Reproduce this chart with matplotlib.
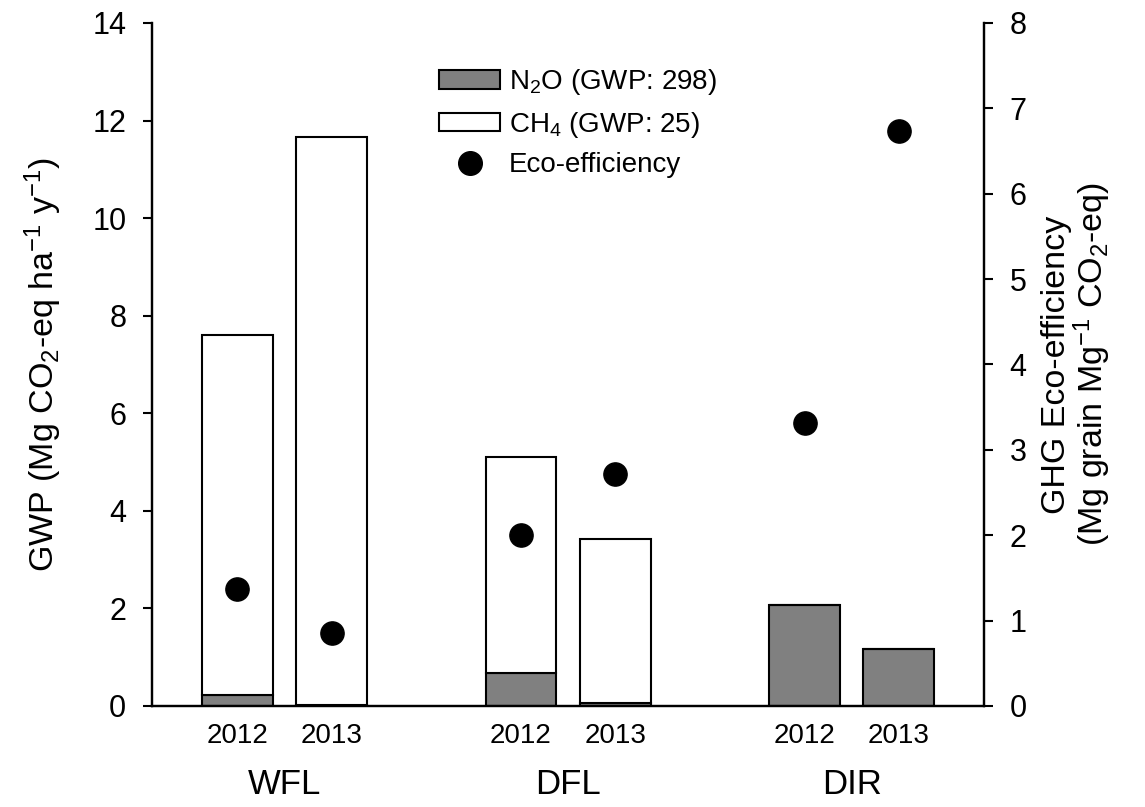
import numpy as np
import matplotlib
matplotlib.use("Agg")
import matplotlib.pyplot as plt
from matplotlib.patches import Patch
from matplotlib.lines import Line2D

plt.rcParams["font.family"] = ["Liberation Sans", "DejaVu Sans"]
plt.rcParams["mathtext.fontset"] = "custom"
plt.rcParams["mathtext.rm"] = "Liberation Sans"
plt.rcParams["mathtext.it"] = "Liberation Sans:italic"

groups = ["WFL", "DFL", "DIR"]
years = ["2012", "2013"]

# GWP components (Mg CO2-eq ha-1 y-1), order: WFL12, WFL13, DFL12, DFL13, DIR12, DIR13
n2o = [0.23, 0.03, 0.68, 0.06, 2.07, 1.17]
total = [7.60, 11.67, 5.10, 3.42, 2.07, 1.17]
ch4 = [t - n for t, n in zip(total, n2o)]
eco = [1.37, 0.85, 2.00, 2.72, 3.31, 6.74]

centers = np.arange(1, len(groups) + 1)
offset = 0.166
xpos = np.array([c + d for c in centers for d in (-offset, offset)])

fig = plt.figure(figsize=(11.45, 8.07), dpi=100)
ax = fig.add_axes([0.1328, 0.1252, 0.7266, 0.8463])

ax.bar(xpos, n2o, width=0.25, color="#808080", edgecolor="black", linewidth=1.5, zorder=2)
ax.bar(xpos, ch4, width=0.25, bottom=n2o, color="white", edgecolor="black", linewidth=1.5, zorder=2)

ax.set_xlim(0.533, 3.467)
ax.set_ylim(0, 14)
ax.set_yticks(range(0, 15, 2))
ax.set_xticks(xpos)
ax.set_xticklabels(years * len(groups))
ax.tick_params(axis="x", length=0, labelsize=20, pad=12)
ax.tick_params(axis="y", length=6.5, width=1.5, labelsize=22, direction="out", pad=12)
ax.spines["top"].set_visible(False)
for s in ["left", "bottom", "right"]:
    ax.spines[s].set_linewidth(1.6)
ax.set_ylabel("GWP (Mg CO$_2$-eq ha$^{-1}$ y$^{-1}$)", fontsize=24.5, labelpad=20)

for c, g in zip(centers, groups):
    ax.text(c, -1.62, g, ha="center", va="center", fontsize=25)

ax2 = ax.twinx()
ax2.scatter(xpos, eco, s=280, color="black", zorder=3)
ax2.set_ylim(0, 8)
ax2.set_yticks(range(0, 9))
ax2.tick_params(axis="y", length=6.5, width=1.5, labelsize=22, direction="out", pad=12)
ax2.spines["top"].set_visible(False)
for s in ["left", "bottom", "right"]:
    ax2.spines[s].set_linewidth(1.6)
ax2.set_ylabel("GHG Eco-efficiency\n(Mg grain Mg$^{-1}$ CO$_2$-eq)", fontsize=24.5,
               rotation=90, labelpad=10, linespacing=1.0)

handles = [
    Patch(facecolor="#808080", edgecolor="black", linewidth=1.5, label="N$_2$O (GWP: 298)"),
    Patch(facecolor="white", edgecolor="black", linewidth=1.5, label="CH$_4$ (GWP: 25)"),
    Line2D([], [], marker="o", linestyle="none", color="black", markersize=17, label="Eco-efficiency"),
]
ax2.legend(handles=handles, loc="upper left", bbox_to_anchor=(0.345, 0.935), frameon=False,
           borderaxespad=0, borderpad=0, fontsize=20, handlelength=2.2, handleheight=0.65,
           labelspacing=0.45, handletextpad=0.3)

fig.savefig("out.png", dpi=100)
